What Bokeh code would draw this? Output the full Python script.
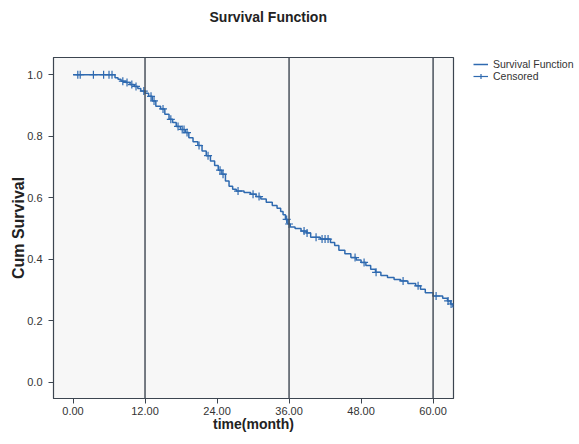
from bokeh.plotting import figure
from bokeh.models import Range1d, FixedTicker, Span, Legend, LegendItem, NumeralTickFormatter, Title
from bokeh.embed import file_html
from bokeh.resources import INLINE
import numpy as np

# Kaplan-Meier step data (event times in months, survival after each event)
event_time = [0.0, 7.0, 7.5, 8.0, 8.8, 9.5, 10.2, 10.8, 11.3, 12.0, 12.6, 13.2, 13.8,
              14.6, 15.3, 16.0, 16.6, 17.2, 17.9, 18.7, 19.3, 20.0, 20.8, 21.5, 22.2,
              22.9, 23.6, 24.2, 24.8, 25.4, 26.0, 26.6, 27.2, 28.5, 29.6, 30.5, 31.3,
              32.2, 33.2, 34.0, 34.6, 35.0, 35.4, 35.8, 36.2, 37.0, 38.0, 38.9, 39.6,
              41.2, 42.9, 43.6, 44.3, 45.3, 46.3, 47.2, 48.0, 48.8, 49.6, 50.4, 51.3,
              52.4, 53.5, 54.6, 55.8, 57.1, 57.9, 58.7, 60.0, 61.6, 62.4, 62.9, 63.3, 63.6]
survival = [1.000, 0.990, 0.985, 0.979, 0.975, 0.968, 0.962, 0.955, 0.947, 0.940, 0.930,
            0.915, 0.898, 0.889, 0.872, 0.855, 0.845, 0.832, 0.822, 0.812, 0.795, 0.782,
            0.770, 0.752, 0.737, 0.720, 0.705, 0.690, 0.677, 0.655, 0.638, 0.628, 0.622,
            0.617, 0.612, 0.604, 0.596, 0.586, 0.575, 0.566, 0.556, 0.545, 0.530, 0.515,
            0.505, 0.500, 0.492, 0.486, 0.472, 0.466, 0.455, 0.445, 0.430, 0.418, 0.406,
            0.398, 0.390, 0.380, 0.368, 0.358, 0.348, 0.341, 0.335, 0.330, 0.322, 0.314,
            0.303, 0.292, 0.281, 0.274, 0.265, 0.255, 0.245, 0.245]

censor_time = [0.8, 1.2, 3.4, 5.1, 6.0, 6.5, 8.3, 9.0, 9.8, 10.5, 11.8, 13.0, 13.5, 15.0,
               16.3, 17.5, 18.2, 18.5, 19.0, 21.0, 22.5, 24.5, 25.0, 27.5, 30.0, 31.0,
               35.6, 36.0, 38.5, 39.0, 40.5, 41.5, 42.0, 42.5, 47.0, 48.5, 50.5, 55.0,
               57.5, 60.5, 62.5, 63.0]

x_ticks = [0, 12, 24, 36, 48, 60]
y_ticks = [0.0, 0.2, 0.4, 0.6, 0.8, 1.0]
ref_lines = [12, 36, 60]

et = np.array(event_time)
sv = np.array(survival)
idx = np.searchsorted(et, np.array(censor_time), side="right") - 1
censor_surv = sv[idx]

BLUE = "#2F6AB0"
FONT = "Liberation Sans"

p = figure(frame_width=400, frame_height=341, output_backend="svg", toolbar_location=None,
           x_range=Range1d(-3.25, 63.4), y_range=Range1d(-0.052, 1.056))
p.background_fill_color = "#F7F7F7"
p.border_fill_color = "white"
p.outline_line_color = "#3C4550"
p.outline_line_width = 1.2
p.grid.visible = False

# spacing panels around the title
p.add_layout(Title(text=" ", text_font_size="27.5px", standoff=0), "above")
main_title = Title(text="Survival Function", text_font=FONT, text_font_size="14px",
                   text_font_style="bold", text_color="#222222", align="left",
                   offset=156, standoff=0)
p.add_layout(main_title, "above")
p.add_layout(Title(text=" ", text_font_size="3.4px", standoff=0), "above")

for ax in (p.xaxis[0], p.yaxis[0]):
    ax.axis_line_color = "#3C4550"
    ax.major_tick_line_color = "#3C4550"
    ax.major_tick_out = 5
    ax.major_tick_in = 0
    ax.minor_tick_line_color = None
    ax.major_label_text_font = FONT
    ax.major_label_text_font_size = "11px"
    ax.major_label_text_color = "#333333"
    ax.axis_label_text_font = FONT
    ax.axis_label_text_font_style = "bold"
    ax.axis_label_text_color = "#222222"

p.xaxis.ticker = FixedTicker(ticks=x_ticks)
p.yaxis.ticker = FixedTicker(ticks=y_ticks)
p.xaxis.formatter = NumeralTickFormatter(format="0.00")
p.yaxis.formatter = NumeralTickFormatter(format="0.0")
p.xaxis.axis_label = "time(month)"
p.yaxis.axis_label = "Cum Survival"
p.xaxis.axis_label_text_font_size = "14px"
p.yaxis.axis_label_text_font_size = "16px"
p.xaxis.major_label_standoff = 3
p.yaxis.major_label_standoff = 6
p.xaxis.axis_label_standoff = -2
p.yaxis.axis_label_standoff = -3

# outer left spacer
p.add_layout(Title(text=" ", text_font_size="4.6px", standoff=0), "left")

for t in ref_lines:
    p.add_layout(Span(location=t, dimension="height", line_color="#4A525C", line_width=1.5))

r_step = p.step(event_time, survival, mode="after", line_color=BLUE, line_width=1.5)
r_cens = p.scatter(censor_time, list(censor_surv), marker="cross", size=8,
                   line_color=BLUE, line_width=1.2)
r_cens_line = p.line([np.nan], [np.nan], line_color=BLUE, line_width=1.2)

legend = Legend(items=[LegendItem(label="Survival Function", renderers=[r_step]),
                       LegendItem(label="Censored", renderers=[r_cens_line, r_cens])],
                location=(20, 316), margin=0, padding=0, spacing=0,
                glyph_width=15, glyph_height=12, label_height=12, label_standoff=5,
                label_text_font=FONT, label_text_font_size="10.5px",
                label_text_color="#333333", border_line_color=None,
                background_fill_alpha=0)
p.add_layout(legend, "right")

open("out.html", "w").write(file_html(p, INLINE))
